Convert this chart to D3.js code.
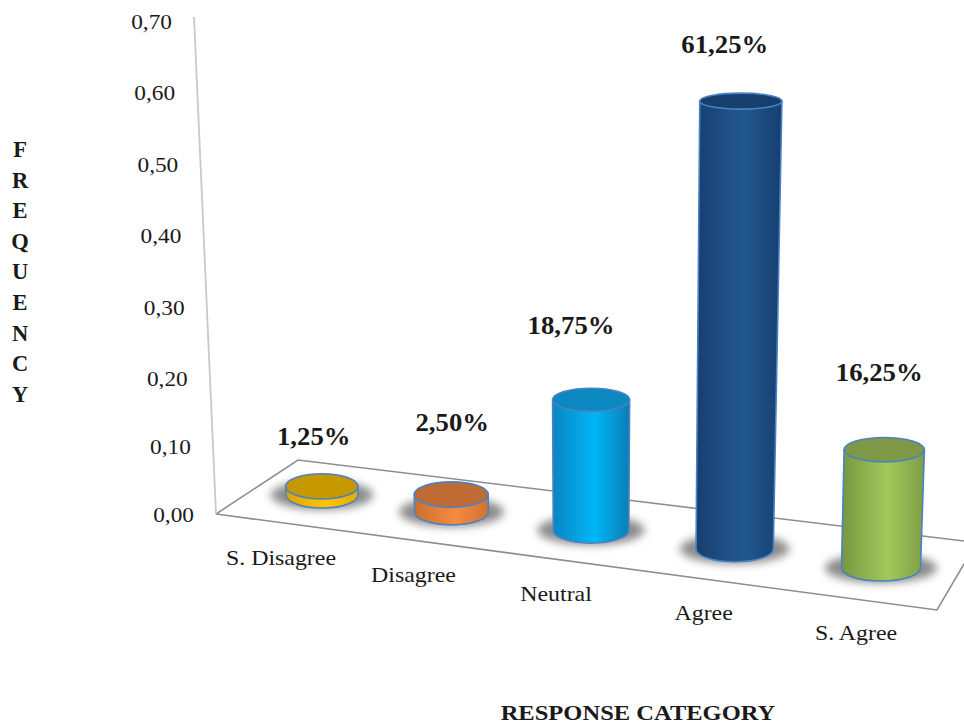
<!DOCTYPE html>
<html>
<head>
<meta charset="utf-8">
<script src="https://cdn.jsdelivr.net/npm/d3@7/dist/d3.min.js"></script>
<style>
html,body{margin:0;padding:0;background:#fff}
svg{display:block}
text{font-family:"Liberation Serif","Times New Roman",serif;fill:#1a1a1a}
</style>
</head>
<body>
<svg id="chart" width="964" height="725"></svg>
<script>
// Survey results: share of respondents per response category.
const categories = ["S. Disagree", "Disagree", "Neutral", "Agree", "S. Agree"];
const frequencies = [0.0125, 0.025, 0.1875, 0.6125, 0.1625];
const tickValues = [0, 0.1, 0.2, 0.3, 0.4, 0.5, 0.6, 0.7];
const yTitle = "FREQUENCY";
const xTitle = "RESPONSE CATEGORY";

const sideColors = [
  ["#d8a400", "#ffc402", "#e2ac00"],
  ["#c9702f", "#f58b40", "#cf7330"],
  ["#0a84c2", "#00b6f6", "#0a7db6"],
  ["#173f70", "#22588f", "#173f70"],
  ["#779640", "#a2c95b", "#7f9e45"]
];
const capColors = ["#c59800", "#be6c33", "#0a88bf", "#173f6e", "#7f9846"];

// Label placement relative to the top of each cylinder.
const valueLabelOffset = [[-8, -41], [1, -64], [-20, -66], [-16, -48], [-5, -69]];

const svg = d3.select("#chart");
const defs = svg.append("defs");
defs.append("filter").attr("id", "soft")
  .attr("x", "-30%").attr("y", "-60%").attr("width", "160%").attr("height", "220%")
  .append("feGaussianBlur").attr("stdDeviation", 4.5);

sideColors.forEach((stops, i) => {
  const g = defs.append("linearGradient").attr("id", "side" + i);
  [0, 0.55, 1].forEach((o, k) => g.append("stop").attr("offset", o).attr("stop-color", stops[k]));
});

const index = categories.map((_, i) => i);
const yAxisScale = d3.scaleLinear().domain([0, 0.1, 0.2, 0.7]).range([515, 447, 379, 22]);
const tickX = d3.scaleLinear().domain([0, 0.7]).range([194, 172]);
const commaLocale = d3.formatLocale({decimal: ",", thousands: ".", grouping: [3], currency: ["", ""]});
const fmtTick = commaLocale.format(".2f");
const fmtPct = commaLocale.format(".2%");

// The floor recedes in perspective, so the spacing widens toward the viewer.
const baseX = d3.scalePow().exponent(1.055).domain([0, 4]).range([322, 881]);
const baseY = d3.scaleLinear().domain([322, 881]).range([495, 568]);
const baseRx = d3.scaleLinear().domain([0, 4]).range([36, 39.5]);
const pxPerUnit = d3.scaleLinear().domain([0, 2, 3, 4]).range([690, 695, 731, 728]);
const leanPerUnit = d3.scaleLinear().domain([322, 881]).range([-18, 20]);
const ryAtY = d3.scaleLinear().domain([100, 500]).range([8, 12.8]);

const cyl = index.map(i => {
  const v = frequencies[i];
  const x0 = baseX(i), y0 = baseY(x0), rx0 = baseRx(i);
  const y1 = y0 - v * pxPerUnit(i);
  return {
    i, v, x0, y0, rx0, ry0: 13,
    x1: x0 + v * leanPerUnit(x0), y1,
    rx1: rx0 + v * 4, ry1: ryAtY(y1)
  };
});

// Floor and wall edges
const lines = svg.append("g").attr("fill", "none");
const shadow = svg.append("g");
shadow.selectAll("ellipse").data(cyl).join("ellipse")
  .attr("cx", d => d.x0).attr("cy", d => d.y0)
  .attr("rx", d => d.rx0 * 1.42).attr("ry", d => d.ry0 * 1.15)
  .attr("fill", "#707070").attr("opacity", 0.8).attr("filter", "url(#soft)");

lines.append("path").attr("d", "M216,514L298,460L964,541").attr("stroke", "#8e8e8e").attr("stroke-width", 1.6);
lines.append("path").attr("d", "M216,514L937,610L964,564").attr("stroke", "#8e8e8e").attr("stroke-width", 1.6);
lines.append("path").attr("d", "M216,514L194,17").attr("stroke", "#c9c9c9").attr("stroke-width", 1.8);

// Cylinders: gradient side wall, flat darker cap
const bars = svg.append("g").selectAll("g").data(cyl).join("g");
bars.append("path")
  .attr("d", d => `M${d.x1 - d.rx1},${d.y1}L${d.x0 - d.rx0},${d.y0}` +
    `A${d.rx0},${d.ry0} 0 0 0 ${d.x0 + d.rx0},${d.y0}L${d.x1 + d.rx1},${d.y1}Z`)
  .attr("fill", d => `url(#side${d.i})`)
  .attr("stroke", "#4a82c4").attr("stroke-width", 1.6);
bars.append("ellipse")
  .attr("cx", d => d.x1).attr("cy", d => d.y1)
  .attr("rx", d => d.rx1).attr("ry", d => d.ry1)
  .attr("fill", d => capColors[d.i])
  .attr("stroke", "#4a82c4").attr("stroke-width", 1.6);

// Widen a text run to the slightly stretched proportions of the chart's type.
function stretch(sel, k) {
  sel.each(function () {
    d3.select(this)
      .attr("textLength", this.getComputedTextLength() * k)
      .attr("lengthAdjust", "spacingAndGlyphs");
  });
}

// Value axis labels
svg.append("g").selectAll("text").data(tickValues).join("text")
  .attr("x", d => tickX(d)).attr("y", d => yAxisScale(d) + 7)
  .attr("text-anchor", "end").attr("font-size", 21)
  .text(d => fmtTick(d)).call(stretch, 1.11);

// Category labels
const labelGap = d3.scaleLinear().domain([0, 1, 2, 3, 4]).range([41, 38, 35, 31, 25]);
const labelBase = d3.scaleLinear().domain([281, 856]).range([565, 640]);
svg.append("g").selectAll("text").data(cyl).join("text")
  .attr("x", d => d.x0 - labelGap(d.i))
  .attr("y", d => labelBase(d.x0 - labelGap(d.i)))
  .attr("text-anchor", "middle").attr("font-size", 21.5)
  .text(d => categories[d.i]).call(stretch, 1.11);

// Value labels
svg.append("g").selectAll("text").data(cyl).join("text")
  .attr("x", d => d.x1 + valueLabelOffset[d.i][0])
  .attr("y", d => d.y1 + valueLabelOffset[d.i][1])
  .attr("text-anchor", "middle").attr("font-size", 25).attr("font-weight", "bold").attr("fill", "#111")
  .text(d => fmtPct(d.v)).call(stretch, 1.07);

// Axis titles
svg.append("g").selectAll("text").data(yTitle.split("")).join("text")
  .attr("x", 20).attr("y", (d, i) => 157 + i * 30.6)
  .attr("text-anchor", "middle").attr("font-size", 22.5).attr("font-weight", "bold").attr("fill", "#111")
  .text(d => d);
svg.append("text").attr("x", 638).attr("y", 720)
  .attr("text-anchor", "middle").attr("font-size", 22).attr("font-weight", "bold").attr("fill", "#111")
  .text(xTitle).call(stretch, 1.115);
</script>
</body>
</html>
